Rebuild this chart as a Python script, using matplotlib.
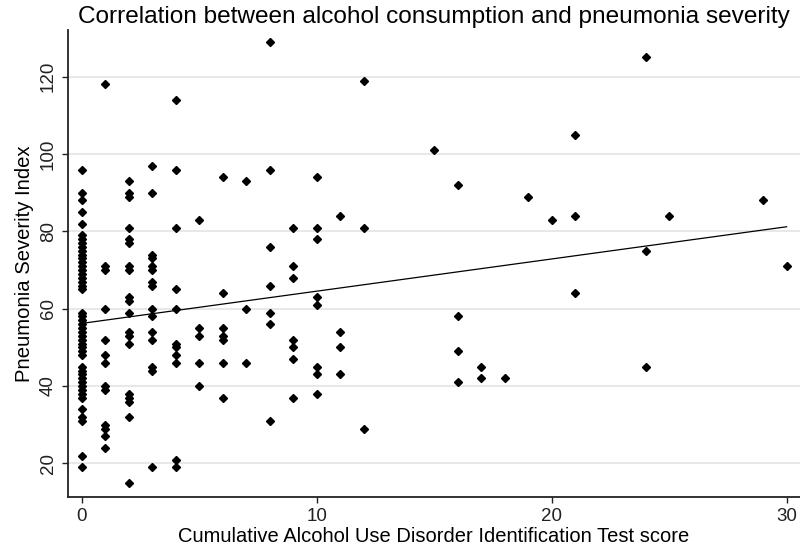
import matplotlib
matplotlib.use("Agg")
import matplotlib.pyplot as plt
from matplotlib import font_manager

# Daten: AUDIT-Score (x) und Pneumonia Severity Index (y)
audit_0 = [96, 90, 88, 85, 82, 79, 78, 77, 76, 75, 74, 73, 72, 71, 70, 69, 68,
           67, 66, 65, 59, 58, 57, 56, 55, 54, 53, 52, 51, 50, 49, 48, 45, 44,
           43, 42, 41, 40, 39, 38, 37, 34, 32, 31, 22, 19]
audit_1 = [118, 71, 70, 60, 52, 48, 46, 40, 39, 30, 29, 27, 24]
audit_2 = [93, 90, 89, 81, 78, 77, 71, 70, 63, 62, 59, 54, 53, 51, 38, 37, 36, 32, 15]
audit_3 = [97, 90, 74, 73, 71, 70, 67, 66, 60, 58, 54, 52, 45, 44, 19]
audit_4 = [114, 96, 81, 65, 60, 51, 50, 48, 46, 21, 19]
audit_5 = [83, 55, 53, 46, 40]
audit_6 = [94, 64, 55, 53, 52, 46, 37]
audit_7 = [93, 60, 46]
audit_8 = [129, 96, 76, 66, 59, 56, 31]
audit_9 = [81, 71, 68, 52, 50, 47, 37]
audit_10 = [94, 81, 78, 63, 61, 45, 43, 38]
audit_11 = [84, 54, 50, 43]
audit_12 = [119, 81, 29]
rest_x = [15, 16, 16, 16, 16, 17, 17, 18, 19, 20, 21, 21, 21, 24, 24, 24, 25, 29, 30]
rest_y = [101, 92, 58, 49, 41, 45, 42, 42, 89, 83, 105, 84, 64, 125, 75, 45, 84, 88, 71]

spalten = [audit_0, audit_1, audit_2, audit_3, audit_4, audit_5, audit_6,
           audit_7, audit_8, audit_9, audit_10, audit_11, audit_12]

x = []
y = []
for score, werte in enumerate(spalten):
    x += [score] * len(werte)
    y += werte
x += rest_x
y += rest_y

# Regressionsgerade (Endpunkte aus dem Bild)
fit_x = [0, 30]
fit_y = [56.2, 81.2]

namen = {f.name for f in font_manager.fontManager.ttflist}
schrift = "Liberation Sans Narrow" if "Liberation Sans Narrow" in namen else "Liberation Sans"
plt.rcParams['font.family'] = [schrift, 'DejaVu Sans']

fig = plt.figure(figsize=(8, 5.51), dpi=100)
ax = fig.add_axes([0.085, 0.098, 0.915, 0.8476])

ax.plot(fit_x, fit_y, color='black', linewidth=0.9, zorder=2)
ax.plot(x, y, linestyle='none', marker='D', markersize=4.3, color='black', zorder=3)

ax.set_xlim(-0.58, 30.57)
ax.set_ylim(11.3, 132.1)
ax.set_xticks([0, 10, 20, 30])
ax.set_yticks([20, 40, 60, 80, 100, 120])
ax.grid(axis='y', color='#e8e8e8', linewidth=1.5)
ax.set_axisbelow(True)

for seite in ['top', 'right']:
    ax.spines[seite].set_visible(False)
for seite in ['left', 'bottom']:
    ax.spines[seite].set_linewidth(1.3)
    ax.spines[seite].set_color('#222222')

ax.tick_params(direction='out', length=4.5, width=1, labelsize=13.5, colors='#222222')
for lab in ax.get_yticklabels():
    lab.set_rotation(90)
    lab.set_va('center')

ax.set_xlabel('Cumulative Alcohol Use Disorder Identification Test score', fontsize=14.5, labelpad=1)
ax.set_ylabel('Pneumonia Severity Index', fontsize=14.6, labelpad=4)
ax.set_title('Correlation between alcohol consumption and pneumonia severity', fontsize=17.6, pad=5)

fig.savefig('out.png', dpi=100)
